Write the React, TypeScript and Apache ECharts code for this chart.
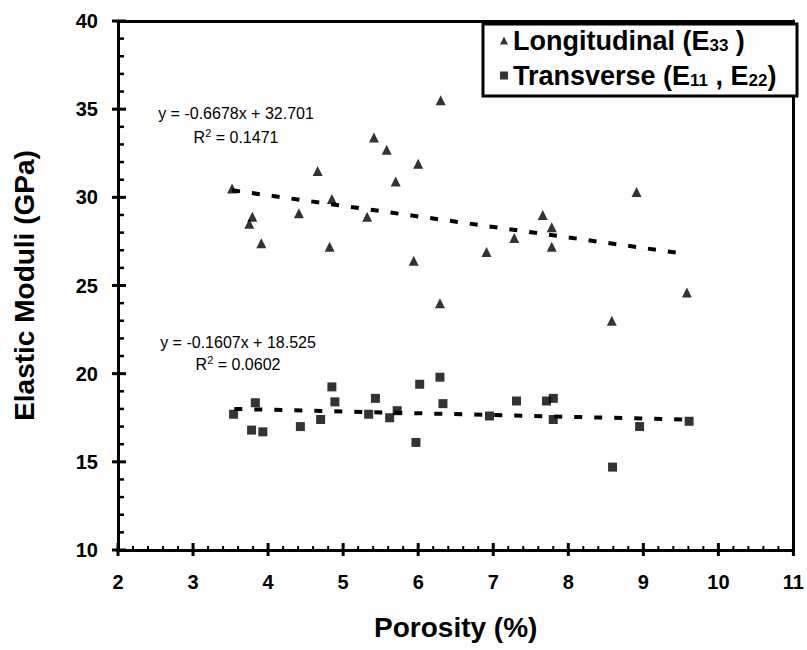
import React, { useEffect, useRef } from "react";
import * as echarts from "echarts";

// Longitudinal (E33) points: porosity (%) and modulus (GPa)
const longX = [3.52, 3.79, 3.75, 3.91, 4.41, 4.66, 4.85, 4.82, 5.32, 5.41, 5.58, 5.70, 5.94, 6.00, 6.29, 6.30, 6.91, 7.28, 7.66, 7.78, 7.78, 8.58, 8.91, 9.58];
const longY = [30.5, 28.9, 28.5, 27.4, 29.1, 31.5, 29.9, 27.2, 28.9, 33.4, 32.7, 30.9, 26.4, 31.9, 24.0, 35.5, 26.9, 27.7, 29.0, 28.3, 27.2, 23.0, 30.3, 24.6];

// Transverse (E11, E22) points
const transX = [3.54, 3.83, 3.78, 3.93, 4.43, 4.70, 4.85, 4.89, 5.34, 5.43, 5.62, 5.72, 5.97, 6.02, 6.29, 6.33, 6.95, 7.31, 7.71, 7.80, 7.80, 8.59, 8.95, 9.61];
const transY = [17.7, 18.35, 16.8, 16.7, 17.0, 17.4, 19.25, 18.4, 17.7, 18.6, 17.5, 17.9, 16.1, 19.4, 19.8, 18.3, 17.6, 18.45, 18.45, 18.6, 17.4, 14.7, 17.0, 17.3];

// Trendline end points as drawn
const longTrendX = [3.52, 9.55];
const longTrendY = [30.4, 26.8];
const transTrendX = [3.55, 9.55];
const transTrendY = [18.0, 17.4];

const longEq = "y = -0.6678x + 32.701";
const longR2 = "0.1471";
const transEq = "y = -0.1607x + 18.525";
const transR2 = "0.0602";

// Axis ranges and tick positions
const xMin = 2, xMax = 11, xStep = 1;
const yMin = 10, yMax = 40, yStep = 5;
const xMajorTicks = [2, 3, 4, 5, 6, 7, 8, 9, 10, 11];
const xMinorTicks = [
  2.2, 2.4, 2.6, 2.8, 3.2, 3.4, 3.6, 3.8, 4.2, 4.4, 4.6, 4.8, 5.2, 5.4, 5.6, 5.8,
  6.2, 6.4, 6.6, 6.8, 7.2, 7.4, 7.6, 7.8, 8.2, 8.4, 8.6, 8.8, 9.2, 9.4, 9.6, 9.8,
  10.2, 10.4, 10.6, 10.8,
];
const yMajorTicks = [10, 15, 20, 25, 30, 35, 40];
const yMinorTicks = [11, 12, 13, 14, 16, 17, 18, 19, 21, 22, 23, 24, 26, 27, 28, 29, 31, 32, 33, 34, 36, 37, 38, 39];

const FONT = '"Liberation Sans", Arial, Helvetica, sans-serif';

export default function App() {
  const ref = useRef<HTMLDivElement>(null);
  useEffect(() => {
    document.body.style.margin = "0";
    const chart = echarts.init(ref.current!, undefined, { renderer: "svg" });
    const pair = (xs: number[], ys: number[]) => xs.map((x, i) => [x, ys[i]]);
    const axisLine = () => ({ show: true, onZero: false, lineStyle: { color: "#000", width: 3 } });
    const eqStyle = (text: string) => ({ text, font: `16px ${FONT}`, fill: "#000", align: "center", verticalAlign: "middle" });
    const r2Text = (v: string) => ({
      text: `{n|R}{s|2}{n| = ${v}}`,
      font: `16px ${FONT}`,
      fill: "#000",
      align: "center",
      verticalAlign: "middle",
      rich: {
        n: { fontSize: 16, fontFamily: FONT, fill: "#000" },
        s: { fontSize: 11, fontFamily: FONT, fill: "#000", padding: [0, 0, 9, 0] },
      },
    });
    // tick marks drawn at axis values through the chart's own coordinate system
    const xTickSeries = (ticks: number[], below: number, above: number, w: number) => ({
      type: "custom",
      silent: true,
      clip: false,
      z: 10,
      data: ticks.map((t) => [t, yMin]),
      encode: { x: 0, y: 1 },
      renderItem: (_p: any, api: any) => {
        const p = api.coord([api.value(0), api.value(1)]);
        return { type: "line", shape: { x1: p[0], y1: p[1] + below, x2: p[0], y2: p[1] - above }, style: { stroke: "#000", lineWidth: w } };
      },
    });
    const yTickSeries = (ticks: number[], left: number, right: number, w: number) => ({
      type: "custom",
      silent: true,
      clip: false,
      z: 10,
      data: ticks.map((t) => [xMin, t]),
      encode: { x: 0, y: 1 },
      renderItem: (_p: any, api: any) => {
        const p = api.coord([api.value(0), api.value(1)]);
        return { type: "line", shape: { x1: p[0] - left, y1: p[1], x2: p[0] + right, y2: p[1] }, style: { stroke: "#000", lineWidth: w } };
      },
    });
    chart.setOption({
      animation: false,
      grid: { left: 118, right: 10, top: 21, bottom: 100 },
      xAxis: [
        {
          type: "value", min: xMin, max: xMax, interval: xStep,
          position: "bottom",
          name: "Porosity (%)",
          nameLocation: "middle",
          nameGap: 63,
          nameTextStyle: { fontFamily: FONT, fontWeight: "bold", fontSize: 28, color: "#000" },
          splitLine: { show: false },
          axisLine: axisLine(),
          axisTick: { show: false },
          axisLabel: { margin: 22, fontFamily: FONT, fontWeight: "bold", fontSize: 20, color: "#000" },
        },
        {
          type: "value", min: xMin, max: xMax, interval: xStep,
          position: "top",
          splitLine: { show: false },
          axisLine: axisLine(),
          axisTick: { show: false },
          axisLabel: { show: false },
        },
      ],
      yAxis: [
        {
          type: "value", min: yMin, max: yMax, interval: yStep,
          position: "left",
          name: "Elastic Moduli (GPa)",
          nameLocation: "middle",
          nameGap: 80,
          nameTextStyle: { fontFamily: FONT, fontWeight: "bold", fontSize: 28, color: "#000" },
          splitLine: { show: false },
          axisLine: axisLine(),
          axisTick: { show: false },
          axisLabel: { margin: 20, fontFamily: FONT, fontWeight: "bold", fontSize: 20, color: "#000" },
        },
        {
          type: "value", min: yMin, max: yMax, interval: yStep,
          position: "right",
          splitLine: { show: false },
          axisLine: axisLine(),
          axisTick: { show: false },
          axisLabel: { show: false },
        },
      ],
      legend: {
        orient: "vertical",
        left: 495,
        top: 22,
        itemGap: 8,
        itemWidth: 8,
        itemHeight: 8,
        data: [
          { name: "Longitudinal", icon: "triangle" },
          { name: "Transverse", icon: "rect" },
        ],
        formatter: (name: string) =>
          name === "Longitudinal"
            ? "{b|Longitudinal (E}{s|33}{b| )}"
            : "{b|Transverse (E}{s|11}{b| , E}{s|22}{b|)}",
        textStyle: {
          rich: {
            b: { fontFamily: FONT, fontWeight: "bold", fontSize: 27, color: "#000" },
            s: { fontFamily: FONT, fontWeight: "bold", fontSize: 17, color: "#000", verticalAlign: "bottom", padding: [10, 0, 0, 0] },
          },
        },
      },
      graphic: [
        { type: "rect", shape: { x: 483, y: 24, width: 314, height: 72 }, style: { fill: "#fff", stroke: "#000", lineWidth: 3 }, z: 3 },
        { type: "text", x: 236, y: 113, style: eqStyle(longEq), z: 10 },
        { type: "text", x: 236, y: 137, style: r2Text(longR2), z: 10 },
        { type: "text", x: 238, y: 342, style: eqStyle(transEq), z: 10 },
        { type: "text", x: 238, y: 364, style: r2Text(transR2), z: 10 },
      ],
      series: [
        {
          name: "Longitudinal",
          type: "scatter",
          symbol: "triangle",
          symbolSize: 10,
          itemStyle: { color: "#000" },
          data: pair(longX, longY),
        },
        {
          name: "Transverse",
          type: "scatter",
          symbol: "rect",
          symbolSize: 9,
          itemStyle: { color: "#000" },
          data: pair(transX, transY),
        },
        {
          name: "longTrend",
          type: "line",
          symbol: "none",
          data: pair(longTrendX, longTrendY),
          lineStyle: { color: "#000", width: 4, type: [8, 12] },
          silent: true,
        },
        {
          name: "transTrend",
          type: "line",
          symbol: "none",
          data: pair(transTrendX, transTrendY),
          lineStyle: { color: "#000", width: 4, type: [8, 12] },
          silent: true,
        },
        { name: "xMajor", ...xTickSeries(xMajorTicks, 6, 7, 3) },
        { name: "xMinor", ...xTickSeries(xMinorTicks, 0, 4, 2) },
        { name: "yMajor", ...yTickSeries(yMajorTicks, 6, 8, 3) },
        { name: "yMinor", ...yTickSeries(yMinorTicks, 0, 6, 2.5) },
      ],
    });
    return () => chart.dispose();
  }, []);
  return <div ref={ref} style={{ position: "absolute", left: 0, top: 0, width: 807, height: 650 }} />;
}
